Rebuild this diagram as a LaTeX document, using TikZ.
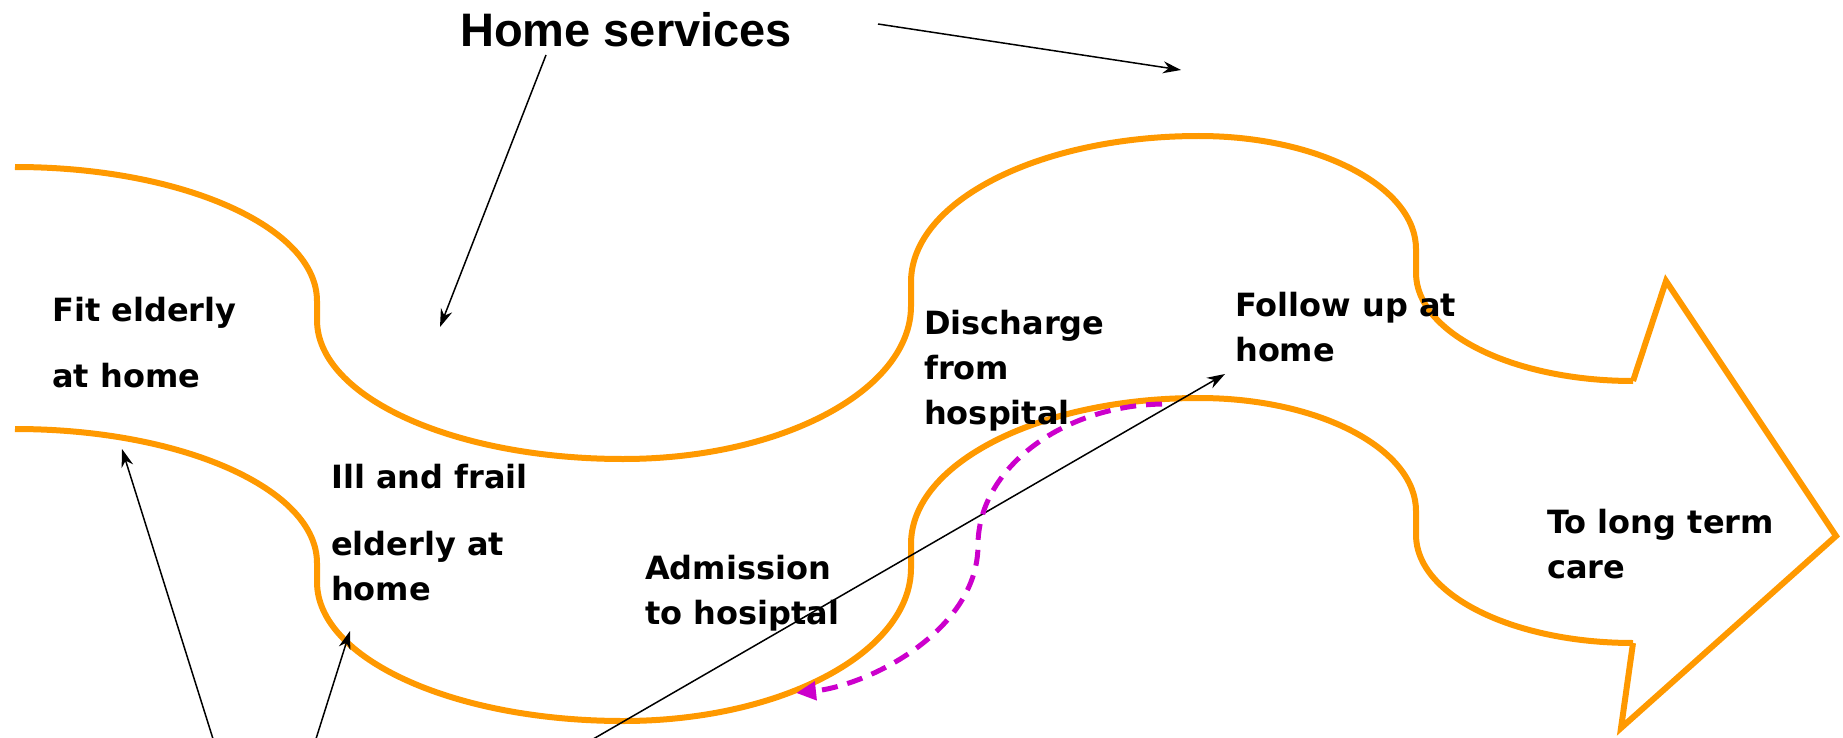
\documentclass[tikz,border=0pt]{standalone}
\usepackage{fontspec}
\setmainfont{Liberation Sans}
\newfontfamily\cartoonfont{DejaVu Sans}
\usetikzlibrary{arrows.meta}
\definecolor{pathorange}{RGB}{255,153,0}
\definecolor{backmagenta}{RGB}{204,0,204}

\begin{document}
\begin{tikzpicture}[
    x=1pt, y=-1pt,
    wave/.style={draw=pathorange, line width=6pt},
    stage/.style={font=\cartoonfont\bfseries\fontsize{32}{45}\selectfont, align=left, anchor=base west, inner sep=0pt},
    title/.style={font=\bfseries\fontsize{47}{56}\selectfont, anchor=base west, inner sep=0pt},
    pointer/.style={-{Stealth[length=18pt, width=12pt]}, line width=1.5pt},
    goback/.style={draw=backmagenta, line width=5pt, dash pattern=on 16pt off 10pt, -{Triangle[length=20pt, width=18pt]}},
]
\useasboundingbox (0,0) rectangle (1843,738);

% Upper and lower edges of the care pathway
\foreach \dy in {0,262} {
  \draw[wave, shift={(0,\dy)}] (15,167) .. controls (182,167) and (317,227) .. (317,301)
      -- (317,320) .. controls (317,397) and (454,459) .. (623,459)
      .. controls (782,459) and (911,390) .. (911,306)
      -- (911,282) .. controls (911,201) and (1040,136) .. (1199,136)
      .. controls (1319,136) and (1416,187) .. (1416,249)
      -- (1416,273) .. controls (1416,333) and (1513,381) .. (1633,381);
}

% Arrow head at the right end
\draw[wave] (1633,381) -- (1666,281) -- (1836,536) -- (1621,728) -- (1633,643);

% Title
\node[title] (homesvc) at (460,47) {Home services};

% Stages along the pathway (placed at the baseline of the last line)
\node[stage] (fit) at (52,387) {Fit elderly\\[21pt]at home};
\node[stage] (ill) at (331,600) {Ill and frail\\[22pt]elderly at\\home};
\node[stage] (admission) at (645,624) {Admission\\to hosiptal};
\node[stage] (discharge) at (924,424) {Discharge\\from\\hospital};
\node[stage] (followup) at (1235,361) {Follow up at\\home};
\node[stage] (longterm) at (1547,578) {To long term\\care};

% Free ends of the pointers
\coordinate (hsleft) at (546,55);
\coordinate (gapupper) at (440,327);
\coordinate (hsright) at (878,24);
\coordinate (gapright) at (1181,70);
\coordinate (fromfit) at (214,742);
\coordinate (onfit) at (122,449);
\coordinate (fromill) at (315,742);
\coordinate (onill) at (350,631);
\coordinate (fromadm) at (588,742);
\coordinate (tofollow) at (1225,374);

% Pointers
\draw[pointer] (hsleft) -- (gapupper);
\draw[pointer] (hsright) -- (gapright);
\draw[pointer] (fromfit) -- (onfit);
\draw[pointer] (fromill) -- (onill);
\draw[pointer] (fromadm) -- (tofollow);

% Readmission loop
\draw[goback] (1162,404) .. controls (1060,406) and (978,470) .. (978,545)
    .. controls (978,630) and (870,685) .. (796,693);

\end{tikzpicture}
\end{document}
